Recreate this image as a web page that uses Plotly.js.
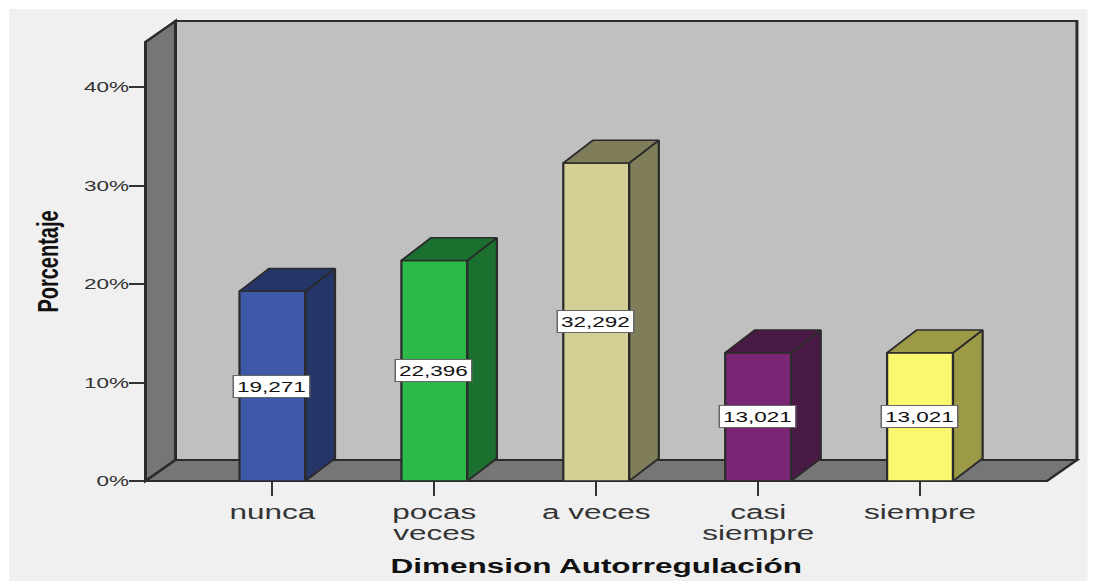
<!DOCTYPE html>
<html>
<head>
<meta charset="utf-8">
<script src="https://cdn.plot.ly/plotly-3.0.1.min.js"></script>
<style>
  html, body { margin: 0; padding: 0; background: #ffffff; overflow: hidden; }
  #chart { position: absolute; left: 9px; top: 9px; transform: scaleX(1.5); transform-origin: 0 0; }
</style>
</head>
<body>
<div id="chart"></div>
<script>
// Survey answers for the self-regulation dimension, as percentages.
const categories = ['nunca', 'pocas<br>veces', 'a veces', 'casi<br>siempre', 'siempre'];
const percentages = [19.271, 22.396, 32.292, 13.021, 13.021];
const valueLabels = ['19,271', '22,396', '32,292', '13,021', '13,021'];
const frontColors = ['#3f59a9', '#2db84a', '#d3cf95', '#7b2675', '#fbf76f'];
const shadeColors = ['#253567', '#1b7030', '#7f7d5a', '#4a1a47', '#9c9a46'];
const yTicks = [0, 10, 20, 30, 40];

// Axis ranges of the front plane and the oblique depth of the 3D box, in axis units.
const xRange = [-0.784, 4.784];
const yRange = [0, 44.57];
const depthX = 0.185;
const depthY = 2.13;
const barDepthX = 0.183;
const barDepthY = 2.3;
const barWidth = 0.407;
const tickLineGap = 21;

const edge = '#2b2b2b';
const positions = categories.map((_, i) => i);

const px = v => (v - xRange[0]) / (xRange[1] - xRange[0]);
const py = v => (v - yRange[0]) / (yRange[1] - yRange[0]);

// Closed polygon on paper coordinates, so the walls may extend past the front plane.
function wall(points, fill) {
  const path = points.map((p, i) => (i ? 'L' : 'M') + px(p[0]) + ',' + py(p[1])).join(' ') + ' Z';
  return { type: 'path', xref: 'paper', yref: 'paper', layer: 'below', path: path,
           fillcolor: fill, line: { color: edge, width: 2 } };
}

const [xLeft, xRight] = xRange;
const yTop = yRange[1];
const shapes = [
  wall([[xLeft + depthX, depthY], [xRight + depthX, depthY], [xRight + depthX, yTop + depthY], [xLeft + depthX, yTop + depthY]], '#c0c0c0'),
  wall([[xLeft, 0], [xLeft + depthX, depthY], [xLeft + depthX, yTop + depthY], [xLeft, yTop]], '#767676'),
  wall([[xLeft, 0], [xRight, 0], [xRight + depthX, depthY], [xLeft + depthX, depthY]], '#767676')
];

// Front faces are real bars; the side and top faces follow from the same values.
const traces = [{
  type: 'bar',
  x: positions,
  y: percentages,
  width: barWidth,
  marker: { color: frontColors, line: { color: edge, width: 1.5 } },
  hoverinfo: 'skip',
  showlegend: false
}];

percentages.forEach((v, i) => {
  const l = positions[i] - barWidth / 2;
  const r = positions[i] + barWidth / 2;
  const face = (xs, ys) => ({
    type: 'scatter', mode: 'lines', x: xs, y: ys, fill: 'toself',
    fillcolor: shadeColors[i], line: { color: edge, width: 1.5 },
    cliponaxis: false, hoverinfo: 'skip', showlegend: false
  });
  traces.push(face([r, r + barDepthX, r + barDepthX, r, r], [0, barDepthY, v + barDepthY, v, 0]));
  traces.push(face([l, r, r + barDepthX, l + barDepthX, l], [v, v, v + barDepthY, v + barDepthY, v]));
});

const font = 'Liberation Sans, Arial, sans-serif';

const annotations = percentages.map((v, i) => ({
  x: positions[i] - 0.005, y: v / 2, xref: 'x', yref: 'y',
  text: valueLabels[i], showarrow: false,
  font: { family: font, size: 15, color: '#111' },
  bgcolor: '#ffffff', bordercolor: '#666666', borderwidth: 1, borderpad: 2
}));

const layout = {
  width: 718.67,
  height: 572,
  margin: { l: 90.67, r: 26.67, t: 33, b: 100, pad: 0 },
  paper_bgcolor: '#f0f0f0',
  plot_bgcolor: 'rgba(0,0,0,0)',
  shapes: shapes,
  annotations: annotations,
  showlegend: false,
  xaxis: {
    range: xRange, tickmode: 'array', tickvals: positions, ticktext: categories,
    ticks: 'outside', ticklen: 14, tickwidth: 1.3, tickcolor: '#333',
    showgrid: false, zeroline: false, showline: false, ticklabelstandoff: -2,
    tickfont: { family: font, size: 21, color: '#333' },
    title: { text: 'Dimension Autorregulación', standoff: 8,
             font: { family: font, size: 21, color: '#111', weight: 'bold' } }
  },
  yaxis: {
    range: yRange, tickmode: 'array', tickvals: yTicks,
    ticktext: yTicks.map(t => t + '%'),
    ticks: 'outside', ticklen: 10, tickwidth: 2, tickcolor: '#333',
    showgrid: false, zeroline: false, showline: false, ticklabelstandoff: -3,
    tickfont: { family: font, size: 15, color: '#333' },
    title: { text: 'Porcentaje', standoff: 11,
             font: { family: font, size: 20, color: '#111', weight: 'bold' } }
  }
};

// Tighten the two-line category labels, whose leading Plotly fixes at 1.3em.
function tightenTickLines(gd) {
  gd.querySelectorAll('.xtick text').forEach(label => {
    label.querySelectorAll('tspan.line').forEach((line, i) => {
      line.setAttribute('dy', (i * tickLineGap) + 'px');
    });
  });
}

Plotly.newPlot('chart', traces, layout, { displayModeBar: false, staticPlot: true })
  .then(tightenTickLines);
</script>
</body>
</html>
